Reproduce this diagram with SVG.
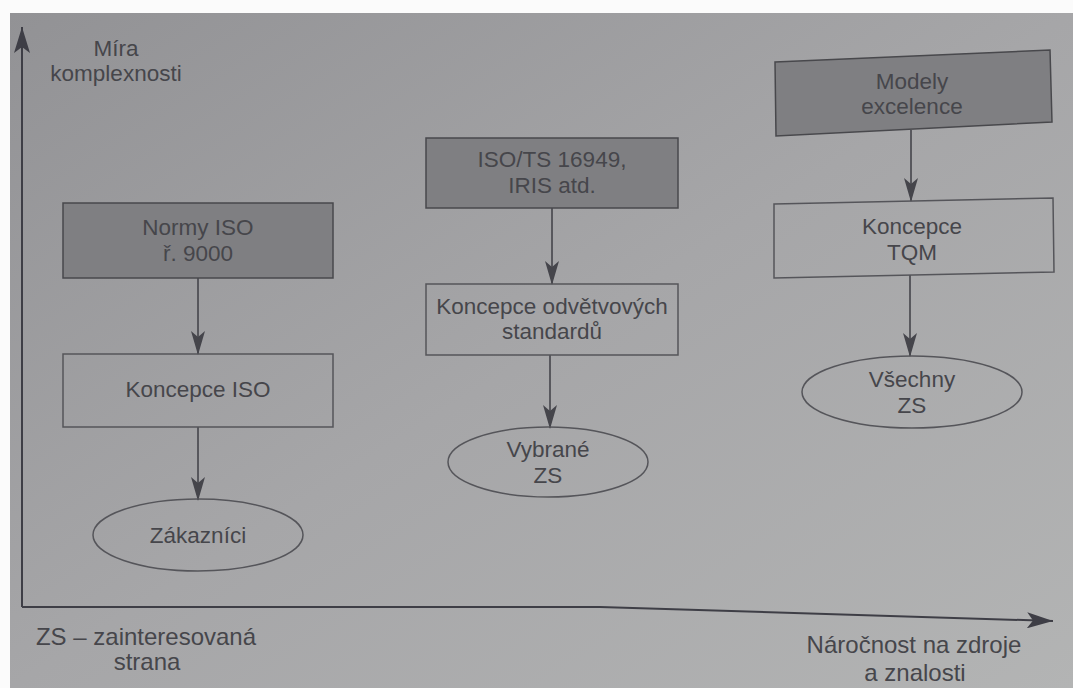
<svg xmlns="http://www.w3.org/2000/svg" width="1073" height="688" viewBox="0 0 1073 688">
  <defs>
    <linearGradient id="bg" x1="0" y1="0" x2="1" y2="1">
      <stop offset="0" stop-color="#929295"/>
      <stop offset="0.5" stop-color="#a6a6a8"/>
      <stop offset="1" stop-color="#b3b4b4"/>
    </linearGradient>
    <marker id="arr" viewBox="0 0 24 14" refX="23" refY="7" markerWidth="24" markerHeight="14" markerUnits="userSpaceOnUse" orient="auto">
      <path d="M0,0 L6,7 L0,14 L24,7 Z" fill="#45454b"/>
    </marker>
    <marker id="axarr" viewBox="0 0 26 16" refX="26" refY="8" markerWidth="26" markerHeight="16" markerUnits="userSpaceOnUse" orient="auto">
      <path d="M26,8 L0,0 L6,8 L0,16 Z" fill="#3e3e46"/>
    </marker>
  </defs>
  <style>
    .t { font-family: "Liberation Sans", Arial, sans-serif; font-size: 22.5px; fill: #46464b; text-anchor: middle; }
    .al { font-size: 24px; }
    .dark { fill: #7f7f82; stroke: #48484c; stroke-width: 1.5; }
    .light { fill: none; stroke: #55555a; stroke-width: 1.5; }
    .ln { stroke: #45454b; stroke-width: 1.6; fill: none; }
    .ax { stroke: #3e3e46; stroke-width: 2; fill: none; }
  </style>
  <rect x="0" y="0" width="1073" height="688" fill="#fbfbfb"/>
  <rect x="10" y="13" width="1063" height="675" fill="url(#bg)"/>

  <g id="axes">
    <line class="ax" x1="22" y1="607" x2="22" y2="27" marker-end="url(#axarr)"/>
    <polyline class="ax" points="22,607 600,607 1053,621" marker-end="url(#axarr)"/>
    <text class="t" x="116" y="56">Míra</text>
    <text class="t" x="116" y="81">komplexnosti</text>
    <text class="t al" x="146" y="645">ZS – zainteresovaná</text>
    <text class="t al" x="147" y="670">strana</text>
    <text class="t al" x="914" y="653">Náročnost na zdroje</text>
    <text class="t al" x="915" y="681">a znalosti</text>
  </g>

  <g id="connectors">
    <line class="ln" x1="198" y1="278" x2="198" y2="354" marker-end="url(#arr)"/>
    <line class="ln" x1="198" y1="427" x2="198" y2="500" marker-end="url(#arr)"/>
    <line class="ln" x1="552" y1="208" x2="552" y2="284" marker-end="url(#arr)"/>
    <line class="ln" x1="550" y1="355" x2="550" y2="428" marker-end="url(#arr)"/>
    <line class="ln" x1="911" y1="130" x2="911" y2="201" marker-end="url(#arr)"/>
    <line class="ln" x1="910" y1="275" x2="910" y2="356" marker-end="url(#arr)"/>
  </g>

  <g id="normy-iso">
    <rect class="dark" x="63" y="203" width="270" height="75"/>
    <text class="t" x="198" y="235">Normy ISO</text>
    <text class="t" x="198" y="261">ř. 9000</text>
  </g>
  <g id="koncepce-iso">
    <rect class="light" x="63" y="354" width="270" height="73"/>
    <text class="t" x="198" y="397">Koncepce ISO</text>
  </g>
  <g id="zakaznici">
    <ellipse class="light" cx="198" cy="535" rx="105" ry="36"/>
    <text class="t" x="198" y="543">Zákazníci</text>
  </g>

  <g id="iso-ts">
    <rect class="dark" x="426" y="138" width="252" height="70"/>
    <text class="t" x="552" y="167">ISO/TS 16949,</text>
    <text class="t" x="552" y="193">IRIS atd.</text>
  </g>
  <g id="koncepce-odvetvovych">
    <rect class="light" x="426" y="284" width="252" height="71"/>
    <text class="t" x="552" y="314">Koncepce odvětvových</text>
    <text class="t" x="552" y="339">standardů</text>
  </g>
  <g id="vybrane-zs">
    <ellipse class="light" cx="548" cy="462" rx="100" ry="35"/>
    <text class="t" x="548" y="457">Vybrané</text>
    <text class="t" x="548" y="483">ZS</text>
  </g>

  <g id="modely-excelence">
    <polygon class="dark" points="775,62 1050,50 1052,122 776,136"/>
    <text class="t" x="912" y="89">Modely</text>
    <text class="t" x="912" y="114">excelence</text>
  </g>
  <g id="koncepce-tqm">
    <polygon class="light" points="774,204 1053,198 1054,272 774,278"/>
    <text class="t" x="912" y="234">Koncepce</text>
    <text class="t" x="912" y="260">TQM</text>
  </g>
  <g id="vsechny-zs">
    <ellipse class="light" cx="912" cy="392" rx="110" ry="36"/>
    <text class="t" x="912" y="387">Všechny</text>
    <text class="t" x="912" y="413">ZS</text>
  </g>
</svg>
